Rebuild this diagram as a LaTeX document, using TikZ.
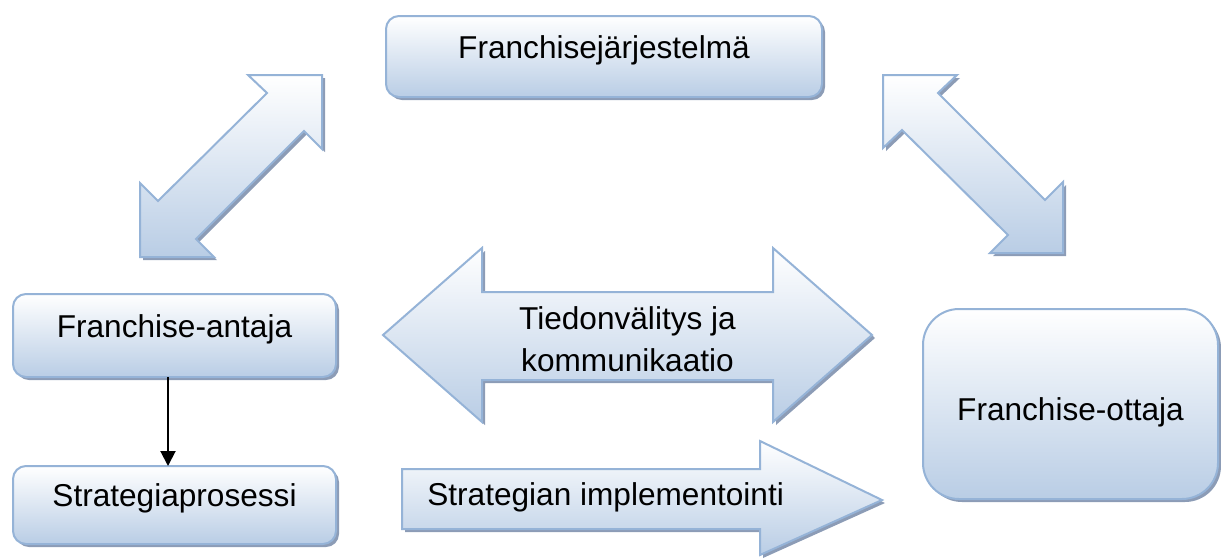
\documentclass[tikz,border=0pt]{standalone}
\usepackage{fontspec}
\setmainfont{Liberation Sans}
\usepackage{tikz}
\usetikzlibrary{positioning}
\usetikzlibrary{arrows.meta}
\usetikzlibrary{shadows}

\definecolor{boxline}{RGB}{149,179,215}
\definecolor{boxfill}{RGB}{185,205,229}
\definecolor{boxshadow}{RGB}{140,156,182}

\begin{document}
\begin{tikzpicture}[
            x = 1pt, y = -1pt, % pixel grid, y pointing down
            > = {Triangle[length=15pt, width=15pt]}, % arrow head style
            line width = 2pt,
            font = \fontsize{31.6pt}{41.6pt}\selectfont
        ]

        \tikzstyle{blueshade}=[
            draw = boxline,
            top color = white,
            bottom color = boxfill,
            drop shadow = {shadow xshift=3pt, shadow yshift=-3pt, fill=boxshadow, opacity=1}
        ]
        \tikzstyle{franbox}=[
            blueshade,
            rectangle,
            rounded corners = 13pt,
            inner sep = 0pt,
            outer sep = 0pt,
            text height = 12pt,
            text depth = 9pt
        ]
        \tikzstyle{blockarrow}=[
            blueshade
        ]

        \useasboundingbox (0,0) rectangle (1221,558);

        % boxes
        \node[franbox, minimum width=436pt, minimum height=81pt] (jarjestelma) at (604,56.5) {Franchisejärjestelmä};
        \node[franbox, minimum width=323pt, minimum height=83pt] (antaja) at (174.5,335.5) {Franchise-antaja};
        \node[franbox, minimum width=323pt, minimum height=78pt] (prosessi) [below=89pt of antaja] {Strategiaprosessi};
        \node[franbox, rounded corners=36pt, minimum width=295pt, minimum height=190pt,
            text height=36pt, text depth=3pt] (ottaja) at (1070.5,404) {Franchise-ottaja};

        \draw[->] ([xshift=-6.5pt]antaja.south) -- ([xshift=-6.5pt]antaja.south |- prosessi.north);

        % block arrows
        \path[blockarrow] (322,75) -- (248,75) -- (267,93) -- (158,201) -- (140,183)
            -- (140,257) -- (214,257) -- (196,239) -- (304,131) -- (322,149) -- cycle;
        \path[blockarrow] (883,75) -- (957,75) -- (938,93) -- (1045,200) -- (1063,182)
            -- (1063,253) -- (990,253) -- (1008,235) -- (902,130) -- (883,148) -- cycle;
        \path[blockarrow] (383,335) -- (482,248) -- (482,292) -- (773,292) -- (773,248)
            -- (872,335) -- (773,422) -- (773,380) -- (482,380) -- (482,422) -- cycle;
        \path[blockarrow] (402,469) -- (760,469) -- (760,441) -- (882,500)
            -- (760,555) -- (760,529) -- (402,529) -- cycle;

        \node[align=center] (tiedonvalitys) at (627.5,339) {Tiedonvälitys ja\\kommunikaatio};
        \node[anchor=base west] (implementointi) at (423,505) {Strategian implementointi};

  \end{tikzpicture}
\end{document}
